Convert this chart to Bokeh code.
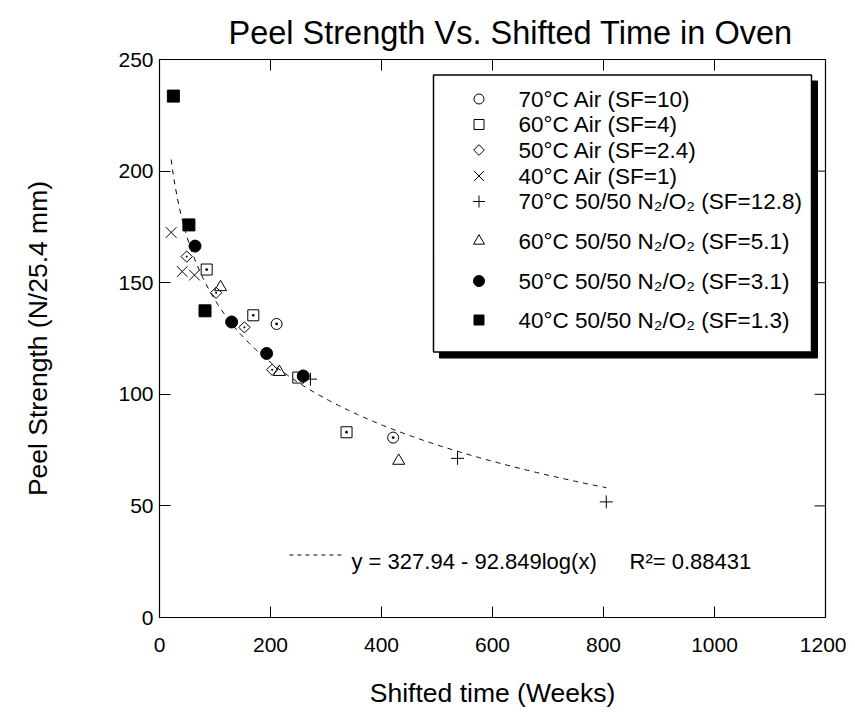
import numpy as np
from bokeh.plotting import figure
from bokeh.models import Range1d, FixedTicker
from bokeh.core.properties import value
from bokeh.embed import file_html
from bokeh.resources import INLINE

FONT = "Liberation Sans"

# ---------------- data ----------------
air70_x = [211, 421]
air70_y = [131.5, 80.6]
air60_x = [85, 169, 250, 337]
air60_y = [155.9, 135.4, 107.5, 83.0]
air50_x = [49, 102, 153, 203]
air50_y = [161.7, 145.5, 130.0, 111.0]
air40_x = [21, 41, 63]
air40_y = [172.5, 155.0, 153.4]
nox70_x = [272, 537, 805]
nox70_y = [106.8, 71.3, 51.8]
nox60_x = [110, 216, 431]
nox60_y = [148.0, 110.0, 70.2]
nox50_x = [64, 130, 193, 259]
nox50_y = [166.4, 132.4, 118.3, 108.2]
nox40_x = [25, 53, 82]
nox40_y = [233.6, 175.9, 137.4]

legend_labels = [
    "70°C Air (SF=10)",
    "60°C Air (SF=4)",
    "50°C Air (SF=2.4)",
    "40°C Air (SF=1)",
    "70°C 50/50 N₂/O₂ (SF=12.8)",
    "60°C 50/50 N₂/O₂ (SF=5.1)",
    "50°C 50/50 N₂/O₂ (SF=3.1)",
    "40°C 50/50 N₂/O₂ (SF=1.3)",
]

title_text = "Peel Strength Vs. Shifted Time in Oven"

fit_a = 327.94
fit_b = 92.849
fit_r2 = 0.88431
fit_x_start = 21
fit_x_end = 805

x_ticks = [0, 200, 400, 600, 800, 1000, 1200]
y_ticks = [0, 50, 100, 150, 200, 250]

# ---------------- layout helpers (page pixel -> data) ----------------
FL, FR, FT, FB = 160.0, 826.0, 59.5, 617.5
def dx(px):
    return (px - FL) / (FR - FL) * 1200.0
def dy(py):
    return (FB - py) / (FB - FT) * 250.0

p = figure(frame_width=666, frame_height=558,
           x_range=Range1d(0, 1200), y_range=Range1d(0, 250),
           output_backend="svg", toolbar_location=None,
           min_border_left=159, min_border_right=21,
           min_border_top=59, min_border_bottom=92,
           background_fill_color="white", border_fill_color="white")

p.title.text = title_text
p.title.align = "left"
p.title.text_font = FONT
p.title.text_font_size = "32.5px"
p.title.text_font_style = "normal"
p.title.text_color = "black"
p.title.text_line_height = 0.8
p.title.offset = 69
p.title.standoff = 18

p.xgrid.visible = False
p.ygrid.visible = False
p.outline_line_color = "black"
p.outline_line_width = 1.2

def style_axis(ax, ticks):
    ax.ticker = FixedTicker(ticks=ticks)
    ax.major_tick_in = 11
    ax.major_tick_out = 0
    ax.minor_tick_in = 0
    ax.minor_tick_out = 0
    ax.axis_line_color = "black"
    ax.major_tick_line_color = "black"
    ax.major_label_text_font = FONT
    ax.major_label_text_font_size = "21px"
    ax.major_label_text_color = "black"
    ax.axis_label_text_font = FONT
    ax.axis_label_text_font_size = "26.5px"
    ax.axis_label_text_font_style = "normal"
    ax.axis_label_text_color = "black"

style_axis(p.xaxis[0], x_ticks)
style_axis(p.yaxis[0], y_ticks)
p.xaxis[0].axis_label = "Shifted time (Weeks)"
p.yaxis[0].axis_label = "Peel Strength (N/25.4 mm)"
p.xaxis[0].major_label_standoff = 20
p.xaxis[0].axis_label_standoff = 23
p.yaxis[0].major_label_standoff = 6
p.yaxis[0].axis_label_standoff = 62

# inward ticks on the top and right frame edges, at the axis tick values
tick_dx = 11 * 1200.0 / 666
tick_dy = 11 * 250.0 / 558
p.segment(x0=x_ticks, y0=[250] * len(x_ticks), x1=x_ticks, y1=[250 - tick_dy] * len(x_ticks),
          line_color="black", line_width=1)
p.segment(x0=[1200] * len(y_ticks), y0=y_ticks, x1=[1200 - tick_dx] * len(y_ticks), y1=y_ticks,
          line_color="black", line_width=1)

# ---------------- fitted curve ----------------
fx = np.linspace(fit_x_start, fit_x_end, 300)
fy = fit_a - fit_b * np.log10(fx)
p.line(fx, fy, line_color="black", line_width=1, line_dash="5 5")

# ---------------- data markers ----------------
lw = 1
p.scatter(air70_x, air70_y, marker="circle_dot", size=11, fill_color=None, line_color="black", line_width=lw)
p.scatter(air60_x, air60_y, marker="square_dot", size=11, fill_color=None, line_color="black", line_width=lw)
p.scatter(air50_x, air50_y, marker="square_dot", size=8, angle=np.pi / 4, fill_color=None, line_color="black", line_width=lw)
p.scatter(air40_x, air40_y, marker="x", size=15, line_color="black", line_width=lw)
p.scatter(nox70_x, nox70_y, marker="cross", size=13, line_color="black", line_width=lw)
p.scatter(nox60_x, nox60_y, marker="triangle", size=12, fill_color=None, line_color="black", line_width=lw)
p.scatter(nox50_x, nox50_y, marker="circle", size=12, fill_color="black", line_color="black")
p.scatter(nox40_x, nox40_y, marker="square", size=12, fill_color="black", line_color="black")

# ---------------- legend box (manual, with drop shadow) ----------------
p.quad(left=[dx(440)], right=[dx(818)], top=[dy(81)], bottom=[dy(358)],
       fill_color="black", line_color="black")
p.quad(left=[dx(434)], right=[dx(812)], top=[dy(75)], bottom=[dy(352)],
       fill_color="white", line_color="black", line_width=1.5)

rows = [99, 124.5, 150, 176, 201.5, 241, 281, 320]
mx = dx(479.5)
leg_specs = [
    dict(marker="circle", size=10, fill_color=None),
    dict(marker="square", size=10, fill_color=None),
    dict(marker="square", size=7.5, angle=np.pi / 4, fill_color=None),
    dict(marker="x", size=14),
    dict(marker="cross", size=12),
    dict(marker="triangle", size=11, fill_color=None),
    dict(marker="circle", size=11, fill_color="black"),
    dict(marker="square", size=10, fill_color="black"),
]
for r, spec in zip(rows, leg_specs):
    p.scatter([mx], [dy(r)], line_color="black", line_width=1, **spec)

p.text(x=[dx(519)] * len(legend_labels), y=[dy(r) for r in rows], text=legend_labels,
       text_font=value(FONT), text_font_size="22.5px", text_color="black",
       text_align="left", text_baseline="middle")

# ---------------- equation key ----------------
p.line([dx(290), dx(342)], [dy(555), dy(555)], line_color="black", line_width=1, line_dash="4 4")
eq1 = f"y = {fit_a} - {fit_b}log(x)"
eq2 = f"R²= {fit_r2}"
p.text(x=[dx(352), dx(630)], y=[dy(561), dy(561)], text=[eq1, eq2],
       text_font=value(FONT), text_font_size="22px", text_color="black",
       text_align="left", text_baseline="middle")

open("out.html", "w").write(file_html(p, INLINE))
